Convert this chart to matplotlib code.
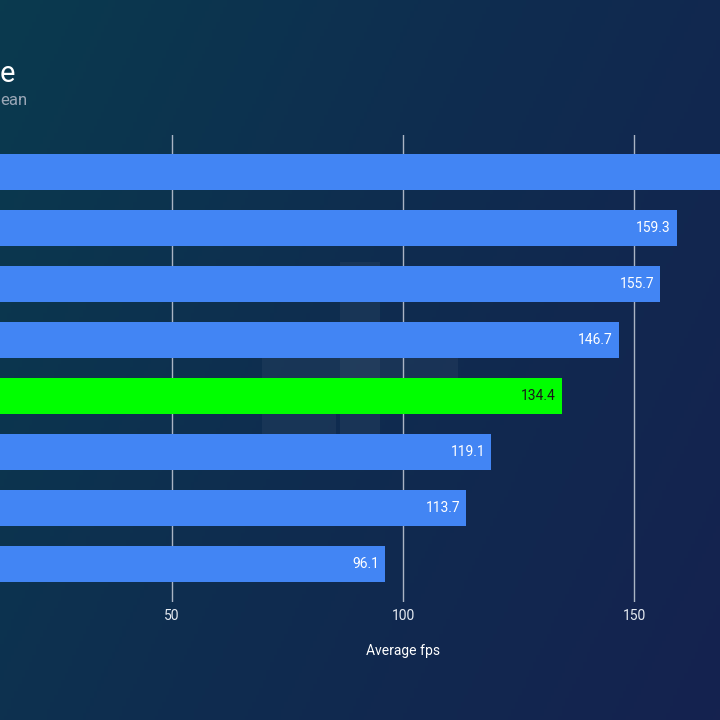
import numpy as np
import matplotlib.pyplot as plt
from matplotlib.colors import LinearSegmentedColormap
from matplotlib.patches import Rectangle

plt.rcParams['font.family'] = ['Roboto', 'DejaVu Sans']

# data (category names are cut off in the reference, so they stay hidden)
cards = ['A', 'B', 'C', 'D', 'E', 'F', 'G', 'H']
fps = [180.5, 159.3, 155.7, 146.7, 134.4, 119.1, 113.7, 96.1]
highlight = 'E'
ticks = [50, 100, 150]

fig = plt.figure(figsize=(7.2, 7.2), dpi=100)

# background gradient
bg = fig.add_axes([0, 0, 1, 1], zorder=-10)
xx, yy = np.meshgrid(np.linspace(0, 1, 200), np.linspace(0, 1, 200))
grad = 0.75 * xx + 0.35 * yy
cmap = LinearSegmentedColormap.from_list('bg', ['#0a3a4e', '#0f2c50', '#15224f'])
bg.imshow(grad, cmap=cmap, aspect='auto', extent=[0, 1, 0, 1], origin='upper')
bg.set_axis_off()

# faint watermark blocks
for (x0, y0, w, h) in [(340, 262, 40, 172), (262, 355, 196, 24), (262, 412, 74, 24)]:
    bg.add_patch(Rectangle((x0 / 720, 1 - (y0 + h) / 720), w / 720, h / 720,
                           color='#8090a0', alpha=0.09, lw=0))

# axes: x=0 sits left of the canvas, like the cropped reference
px = 231 / 50
left = -59 / 720
ax = fig.add_axes([left, 1 - 602 / 720, 200 * px / 720, (602 - 135) / 720])
ax.set_facecolor('none')

y = np.arange(len(cards))
colors = ['#00ff00' if c == highlight else '#4285f4' for c in cards]
ax.barh(y, fps, height=0.64, color=colors, zorder=3)
xmax_visible = (720 + 59) / px
for yi, v, c in zip(y, fps, cards):
    if v > xmax_visible:  # label lies beyond the cropped edge
        continue
    ax.text(v - 1.3, yi, f'{v:.1f}', ha='right', va='center', fontsize=10,
            color='#1a1a1a' if c == highlight else 'white', zorder=4)

ax.set_xlim(0, 200)
ax.set_ylim(7.68, -0.66)
ax.set_xticks(ticks)
ax.set_yticks([])
ax.grid(axis='x', color='#aab4c4', lw=1, zorder=1)
ax.tick_params(axis='x', length=0, pad=5, labelsize=10, labelcolor='#e6ebf2')
ax.set_xlabel('Average fps', fontsize=10, color='white', labelpad=15)
for s in ax.spines.values():
    s.set_visible(False)

fig.text(0, 1 - 82 / 720, 'e', ha='left', va='baseline', fontsize=21, color='white')
fig.text(0, 1 - 105 / 720, 'ean', ha='left', va='baseline', fontsize=12, color='#9aa6b6')

fig.savefig('out.png', dpi=100)
